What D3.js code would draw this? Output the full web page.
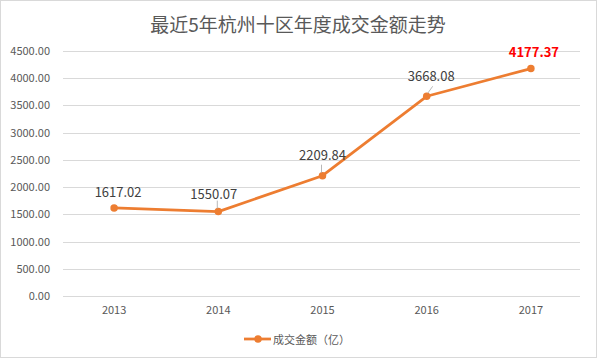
<!DOCTYPE html>
<html><head><meta charset="utf-8">
<script src="https://cdnjs.cloudflare.com/ajax/libs/d3/7.8.5/d3.min.js"></script>
<style>body{margin:0;background:#fff}svg{display:block}</style>
</head><body>
<script>
const title = "最近5年杭州十区年度成交金额走势";
const seriesName = "成交金额（亿）";
const categories = ["2013","2014","2015","2016","2017"];
const values = [1617.02, 1550.07, 2209.84, 3668.08, 4177.37];
const yTicks = [0,500,1000,1500,2000,2500,3000,3500,4000,4500];

const W = 597, H = 358;
const font = "'Microsoft YaHei','Noto Sans CJK SC','DejaVu Sans',sans-serif";
const svg = d3.select("body").append("svg").attr("width", W).attr("height", H);
svg.append("rect").attr("x",0.5).attr("y",0.5).attr("width",W-1).attr("height",H-1)
  .attr("fill","#fff").attr("stroke","#d9d9d9");

const x = d3.scaleBand().domain(categories).range([62, 583]);
const y = d3.scaleLinear().domain([0,4500]).range([296, 51]);
const color = "#ED7D31";

svg.append("text").attr("x", 298).attr("y", 32).attr("text-anchor","middle")
  .attr("font-family", font).attr("font-size", 19).attr("fill","#595959").text(title);

// grid
svg.append("g").selectAll("line").data(yTicks).join("line")
  .attr("x1", 63).attr("x2", 580).attr("y1", d=>Math.round(y(d))+0.5).attr("y2", d=>Math.round(y(d))+0.5)
  .attr("stroke","#d9d9d9").attr("stroke-width",1);

// y axis labels
const yAxis = d3.axisLeft(y).tickValues(yTicks).tickFormat(d3.format(".2f")).tickSize(0).tickPadding(0);
const gy = svg.append("g").attr("transform","translate(50,0)").call(yAxis);
gy.select(".domain").remove();
gy.selectAll("text").attr("font-family", font).attr("font-size", 11).attr("fill","#595959");

// x axis labels
const xAxis = d3.axisBottom(x).tickSize(0).tickPadding(0);
const gx = svg.append("g").attr("transform","translate(0,306)").call(xAxis);
gx.select(".domain").remove();
gx.selectAll("text").attr("font-family", font).attr("font-size", 11).attr("fill","#595959");

const cx = d => x(d) + x.bandwidth()/2;
const line = d3.line().x((d,i)=>cx(categories[i])).y(d=>y(d));
svg.append("path").datum(values).attr("d", line).attr("fill","none")
  .attr("stroke", color).attr("stroke-width", 2.75).attr("stroke-linejoin","round");
svg.append("g").selectAll("circle").data(values).join("circle")
  .attr("cx",(d,i)=>cx(categories[i])).attr("cy", d=>y(d)).attr("r", 3.75).attr("fill", color);

// leader lines
const leaders = [1,2,3];
svg.append("g").selectAll("line").data(leaders).join("line")
  .attr("x1", i=>cx(categories[i]) + (i===3?1:-1)).attr("y1", i=>y(values[i]) - 3)
  .attr("x2", i=>cx(categories[i]) + (i===3?6:-1)).attr("y2", i=>y(values[i]) - (i===3?10:11))
  .attr("stroke","#a6a6a6").attr("stroke-width",0.8);

// data labels
const labelDx = [4, -4.5, 0, 4.5, 3];
const labelDy = [-11, -13, -15.5, -15, -12];
svg.append("g").selectAll("text").data(values).join("text")
  .attr("x",(d,i)=>cx(categories[i]) + labelDx[i])
  .attr("y",(d,i)=>y(d) + labelDy[i])
  .attr("text-anchor","middle").attr("font-family", font)
  .attr("font-size", 13)
  .attr("font-weight",(d,i)=> i===4 ? "bold" : "normal")
  .attr("fill",(d,i)=> i===4 ? "#FF0000" : "#404040")
  .text(d=>d3.format(".2f")(d));

// legend
const lg = svg.append("g");
lg.append("line").attr("x1",244).attr("x2",271).attr("y1",339).attr("y2",339).attr("stroke",color).attr("stroke-width",2.75);
lg.append("circle").attr("cx",258).attr("cy",339).attr("r",3.75).attr("fill",color);
lg.append("text").attr("x",273).attr("y",343.5).attr("font-family",font).attr("font-size",11).attr("fill","#595959").text(seriesName);
</script>
</body></html>
